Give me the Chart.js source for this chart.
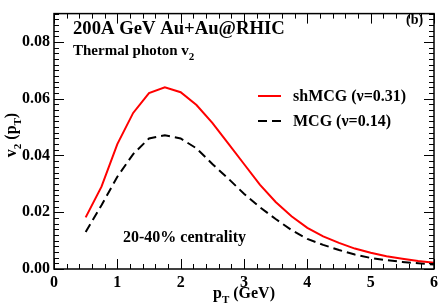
<!DOCTYPE html>
<html>
<head>
<meta charset="utf-8">
<script src="https://cdn.jsdelivr.net/npm/chart.js@4.4.1/dist/chart.umd.min.js"></script>
<style>
  html, body { margin: 0; padding: 0; background: #fff; }
  #wrap { width: 442px; height: 307px; position: relative; }
</style>
</head>
<body>
<div id="wrap"><canvas id="v2Chart"></canvas></div>
<script>
const pT = [0.5, 0.75, 1.0, 1.25, 1.5, 1.75, 2.0, 2.25, 2.5, 2.75, 3.0, 3.25, 3.5, 3.75, 4.0, 4.25, 4.5, 4.75, 5.0, 5.25, 5.5, 5.75, 6.0];
const shMCG = [0.0182, 0.029, 0.044, 0.055, 0.062, 0.064, 0.0623, 0.0578, 0.0515, 0.0443, 0.037, 0.0297, 0.0236, 0.0186, 0.0145, 0.0115, 0.0092, 0.0072, 0.0057, 0.0045, 0.0036, 0.0028, 0.0022];
const MCG = [0.013, 0.0225, 0.0325, 0.0405, 0.046, 0.0471, 0.046, 0.0425, 0.037, 0.0319, 0.0265, 0.0218, 0.0176, 0.0137, 0.0106, 0.0085, 0.0067, 0.0051, 0.0039, 0.0031, 0.0025, 0.002, 0.0016];
const xTicks = [0, 1, 2, 3, 4, 5, 6];
const yTicks = [0.00, 0.02, 0.04, 0.06, 0.08];
const seriesNames = ['shMCG (\u03bd=0.31)', 'MCG (\u03bd=0.14)'];

// pick a serif face that is really installed
function pickSerif() {
  const c = document.createElement('canvas').getContext('2d');
  const probe = 'AaBbWwIi 0123 @RHIC';
  const names = ['Liberation Serif', 'Times New Roman', 'Times', 'DejaVu Serif', 'Noto Serif', 'Tinos', 'Nimbus Roman'];
  for (const n of names) {
    for (const base of ['monospace', 'sans-serif']) {
      c.font = `bold 20px ${base}`;
      const w0 = c.measureText(probe).width;
      c.font = `bold 20px "${n}", ${base}`;
      if (Math.abs(c.measureText(probe).width - w0) > 0.5) return `"${n}", serif`;
    }
  }
  return 'serif';
}
const SERIF = pickSerif();

// text with subscripts, parts = [[text, isSub], ...]
function subText(ctx, parts, x, y, size) {
  let cx = x;
  parts.forEach(([t, sub]) => {
    ctx.font = `bold ${sub ? Math.round(size * 0.7) : size}px ${SERIF}`;
    ctx.fillText(t, cx, sub ? y + size * 0.3 : y);
    cx += ctx.measureText(t).width;
  });
  return cx - x;
}
function subWidth(ctx, parts, size) {
  let w = 0;
  parts.forEach(([t, sub]) => {
    ctx.font = `bold ${sub ? Math.round(size * 0.7) : size}px ${SERIF}`;
    w += ctx.measureText(t).width;
  });
  return w;
}

const framePlugin = {
  id: 'frame',
  afterDraw(chart) {
    const { ctx, chartArea: a, scales: { x, y } } = chart;
    ctx.save();
    ctx.strokeStyle = '#000';
    ctx.lineWidth = 1.5;
    ctx.strokeRect(a.left, a.top, a.right - a.left, a.bottom - a.top);

    ctx.lineWidth = 1;
    // x ticks: major 1, minor 0.2
    for (let i = 0; i <= 30; i++) {
      const px = Math.round(x.getPixelForValue(i * 0.2)) + 0.5;
      const len = i % 5 === 0 ? 10 : 5;
      ctx.beginPath();
      ctx.moveTo(px, a.bottom); ctx.lineTo(px, a.bottom - len);
      ctx.moveTo(px, a.top); ctx.lineTo(px, a.top + len);
      ctx.stroke();
    }
    // y ticks: major 0.02, minor 0.002
    for (let i = 0; i <= 45; i++) {
      const py = Math.round(y.getPixelForValue(i * 0.002)) + 0.5;
      const len = i % 10 === 0 ? 10 : 5;
      ctx.beginPath();
      ctx.moveTo(a.left, py); ctx.lineTo(a.left + len, py);
      ctx.moveTo(a.right, py); ctx.lineTo(a.right - len, py);
      ctx.stroke();
    }

    ctx.fillStyle = '#000';
    ctx.textBaseline = 'alphabetic';
    ctx.textAlign = 'left';
    ctx.font = `bold 18.7px ${SERIF}`;
    ctx.fillText('200A GeV Au+Au@RHIC', 73, 34);
    subText(ctx, [['Thermal photon v', false], ['2', true]], 73, 55, 15);
    ctx.font = `bold 14px ${SERIF}`;
    ctx.fillText('(b)', 406, 24);
    ctx.font = `bold 16px ${SERIF}`;
    ctx.fillText('20-40% centrality', 123, 242);

    // legend
    chart.data.datasets.forEach((ds, i) => {
      const ly = 96 + i * 25;
      ctx.strokeStyle = ds.borderColor;
      ctx.lineWidth = 2;
      ctx.setLineDash(ds.borderDash || []);
      ctx.beginPath();
      ctx.moveTo(258, ly); ctx.lineTo(281, ly);
      ctx.stroke();
      ctx.setLineDash([]);
      ctx.font = `bold 16px ${SERIF}`;
      ctx.fillText(ds.label, 293, ly + 5);
    });

    // axis titles
    const xp = [['p', false], ['T', true], [' (GeV)', false]];
    const xw = subWidth(ctx, xp, 16);
    subText(ctx, xp, (a.left + a.right) / 2 - xw / 2, 298, 16);

    const yp = [['v', false], ['2', true], [' (p', false], ['T', true], [')', false]];
    const yw = subWidth(ctx, yp, 16);
    ctx.translate(16, 135);
    ctx.rotate(-Math.PI / 2);
    subText(ctx, yp, -yw / 2, 0, 16);
    ctx.restore();
  }
};

new Chart(document.getElementById('v2Chart'), {
  type: 'line',
  data: {
    datasets: [
      {
        label: seriesNames[0],
        data: pT.map((v, i) => ({ x: v, y: shMCG[i] })),
        borderColor: '#ff0000',
        borderWidth: 2,
        pointRadius: 0,
        tension: 0,
        fill: false,
      },
      {
        label: seriesNames[1],
        data: pT.map((v, i) => ({ x: v, y: MCG[i] })),
        borderColor: '#000000',
        borderWidth: 2,
        borderDash: [9, 5],
        pointRadius: 0,
        tension: 0,
        fill: false,
      },
    ],
  },
  options: {
    responsive: true,
    maintainAspectRatio: false,
    animation: false,
    layout: { padding: { top: 1, right: 4, left: 0, bottom: 0 } },
    plugins: { legend: { display: false }, tooltip: { enabled: false } },
    scales: {
      x: {
        type: 'linear',
        min: 0, max: 6,
        grid: { display: false, drawTicks: false },
        border: { display: false },
        afterBuildTicks: (s) => { s.ticks = xTicks.map((v) => ({ value: v })); },
        afterFit: (s) => { s.height = 38; },
        ticks: {
          padding: 4,
          color: '#000',
          maxRotation: 0,
          font: { family: SERIF, size: 16, weight: 'bold' },
        },
      },
      y: {
        min: 0, max: 0.09,
        grid: { display: false, drawTicks: false },
        border: { display: false },
        afterBuildTicks: (s) => { s.ticks = yTicks.map((v) => ({ value: v })); },
        afterFit: (s) => { s.width = 54; },
        ticks: {
          padding: 4,
          color: '#000',
          font: { family: SERIF, size: 16, weight: 'bold' },
          callback: (v) => Number(v).toFixed(2),
        },
      },
    },
  },
  plugins: [framePlugin],
});
</script>
</body>
</html>
